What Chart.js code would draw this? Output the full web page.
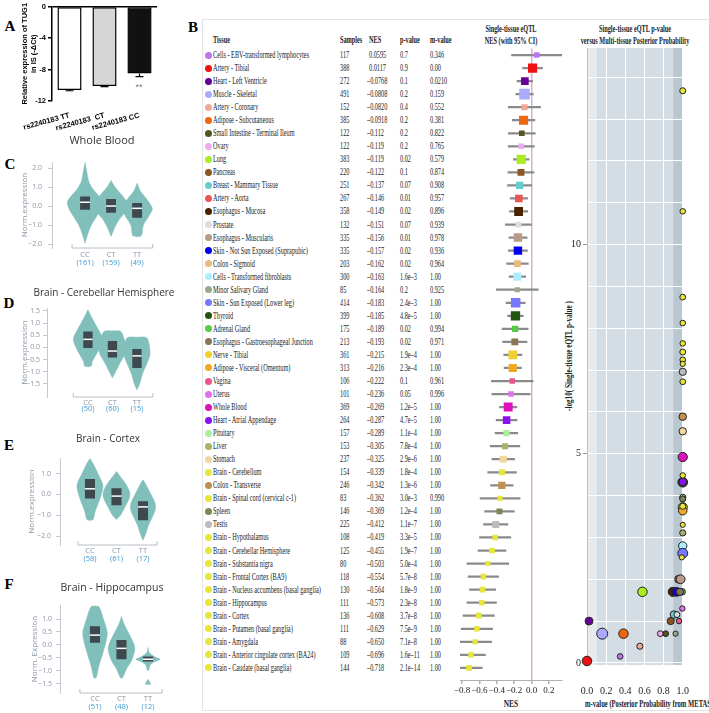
<!DOCTYPE html>
<html lang="en">
<head>
<meta charset="UTF-8">
<title>TUG1 rs2240183 eQTL</title>
<script src="https://cdn.jsdelivr.net/npm/chart.js@4"></script>
<style>
  body { margin: 0; width: 709px; height: 713px; overflow: hidden; position: relative; background: #fff; }
  canvas { position: absolute; }
  .t { position: absolute; white-space: nowrap; line-height: 1; }
  .dot { position: absolute; width: 7px; height: 7px; border-radius: 50%; }
</style>
</head>
<body>
<script>
// ---- Panel A: qPCR bars ----
const genoLabelsA = ['rs2240183 TT', 'rs2240183  CT', 'rs2240183 CC'];
const exprA = [-10.6, -10.1, -8.5];
const semA = [0.1, 0.08, 0.4];
const yTicksA = [0, -4, -8, -12];

// ---- Panels C-F: GTEx violins ----
const genotypes = ['CC', 'CT', 'TT'];

// [y, half width] knots, top to bottom
const wbCC = [[2.3, 0], [1.8, 0.07], [1.3, 0.14], [0.9, 0.3], [0.5, 0.55], [0.2, 0.68], [-0.2, 0.6], [-0.6, 0.42], [-1.0, 0.24], [-1.5, 0.1], [-1.95, 0]];
const wbCT = [[1.35, 0], [1.0, 0.15], [0.6, 0.4], [0.2, 0.62], [0.0, 0.65], [-0.3, 0.55], [-0.7, 0.32], [-1.1, 0.15], [-1.6, 0]];
const wbTT = [[1.2, 0], [0.8, 0.12], [0.4, 0.35], [0.0, 0.55], [-0.2, 0.58], [-0.6, 0.42], [-1.0, 0.24], [-1.55, 0.17], [-1.62, 0]];
const wbBox = [[-0.2, 0.2, 0.5], [-0.35, 0, 0.37], [-0.62, -0.12, 0.16]]; // q1, median, q3
const wbCounts = [161, 159, 49];

const chCC = [[1.55, 0], [1.2, 0.17], [0.8, 0.39], [0.4, 0.59], [0.2, 0.57], [-0.2, 0.39], [-0.6, 0.17], [-0.75, 0.15], [-0.8, 0]];
const chCT = [[0.68, 0], [0.66, 0.33], [0.4, 0.46], [0.0, 0.57], [-0.3, 0.5], [-0.6, 0.33], [-1.0, 0.13], [-1.25, 0]];
const chTT = [[0.42, 0], [0.4, 0.39], [0.1, 0.5], [-0.3, 0.53], [-0.7, 0.39], [-1.1, 0.22], [-1.5, 0.11], [-1.75, 0]];
const chBox = [[-0.03, 0.33, 0.65], [-0.42, -0.15, 0.26], [-0.85, -0.35, -0.07]];
const chCounts = [50, 60, 15];

const cxCC = [[1.72, 0], [1.4, 0.15], [1.0, 0.3], [0.5, 0.48], [0.2, 0.47], [-0.3, 0.35], [-0.8, 0.2], [-1.2, 0.12], [-1.25, 0]];
const cxCT = [[1.1, 0], [0.9, 0.12], [0.5, 0.35], [0.1, 0.5], [-0.2, 0.48], [-0.6, 0.32], [-1.0, 0.15], [-1.2, 0]];
const cxTT = [[0.7, 0], [0.5, 0.1], [0.0, 0.3], [-0.4, 0.45], [-0.7, 0.47], [-1.1, 0.35], [-1.5, 0.2], [-1.9, 0.1], [-2.2, 0]];
const cxBox = [[-0.2, 0.27, 0.74], [-0.52, -0.08, 0.3], [-1.24, -0.6, -0.33]];
const cxCounts = [58, 61, 17];

const hcCC = [[1.5, 0], [1.47, 0.15], [1.0, 0.32], [0.5, 0.46], [0.2, 0.43], [-0.3, 0.3], [-0.8, 0.15], [-1.25, 0.05], [-1.28, 0]];
const hcCT = [[1.1, 0], [0.8, 0.1], [0.4, 0.3], [0.0, 0.48], [-0.2, 0.5], [-0.6, 0.38], [-0.9, 0.2], [-1.25, 0.05], [-1.28, 0]];
const hcTT = [[-0.1, 0], [-0.3, 0.05], [-0.45, 0.25], [-0.55, 0.46], [-0.62, 0.3], [-0.75, 0.1], [-0.95, 0.03], [-1.0, 0]];
const hcBox = [[0.09, 0.38, 0.72], [-0.55, -0.13, 0.19], [-0.64, -0.55, -0.44]];
const hcCounts = [51, 48, 12];
const hcOutliers = [{ x: 3, y: -1.45 }];

// ---- Panel B: multi-tissue eQTL ----
const tissues = [
  'Cells - EBV-transformed lymphocytes', 'Artery - Tibial', 'Heart - Left Ventricle', 'Muscle - Skeletal',
  'Artery - Coronary', 'Adipose - Subcutaneous', 'Small Intestine - Terminal Ileum', 'Ovary', 'Lung', 'Pancreas',
  'Breast - Mammary Tissue', 'Artery - Aorta', 'Esophagus - Mucosa', 'Prostate', 'Esophagus - Muscularis',
  'Skin - Not Sun Exposed (Suprapubic)', 'Colon - Sigmoid', 'Cells - Transformed fibroblasts', 'Minor Salivary Gland',
  'Skin - Sun Exposed (Lower leg)', 'Thyroid', 'Adrenal Gland', 'Esophagus - Gastroesophageal Junction',
  'Nerve - Tibial', 'Adipose - Visceral (Omentum)', 'Vagina', 'Uterus', 'Whole Blood', 'Heart - Atrial Appendage',
  'Pituitary', 'Liver', 'Stomach', 'Brain - Cerebellum', 'Colon - Transverse', 'Brain - Spinal cord (cervical c-1)',
  'Spleen', 'Testis', 'Brain - Hypothalamus', 'Brain - Cerebellar Hemisphere', 'Brain - Substantia nigra',
  'Brain - Frontal Cortex (BA9)', 'Brain - Nucleus accumbens (basal ganglia)', 'Brain - Hippocampus',
  'Brain - Cortex', 'Brain - Putamen (basal ganglia)', 'Brain - Amygdala',
  'Brain - Anterior cingulate cortex (BA24)', 'Brain - Caudate (basal ganglia)'
];
const samples = [117, 388, 272, 491, 152, 385, 122, 122, 383, 220, 251, 267, 358, 132, 335, 335, 203, 300, 85, 414,
  399, 175, 213, 361, 313, 106, 101, 369, 264, 157, 153, 237, 154, 246, 83, 146, 225, 108, 125, 80,
  118, 130, 111, 136, 111, 88, 109, 144];
const nesText = ['0.0595', '0.0117', '-0.0768', '-0.0808', '-0.0820', '-0.0918', '-0.112', '-0.119', '-0.119', '-0.122',
  '-0.137', '-0.146', '-0.149', '-0.151', '-0.156', '-0.157', '-0.162', '-0.163', '-0.164', '-0.183',
  '-0.185', '-0.189', '-0.193', '-0.215', '-0.216', '-0.222', '-0.236', '-0.269', '-0.287', '-0.289',
  '-0.305', '-0.325', '-0.339', '-0.342', '-0.362', '-0.369', '-0.412', '-0.419', '-0.455', '-0.503',
  '-0.554', '-0.564', '-0.573', '-0.608', '-0.629', '-0.650', '-0.696', '-0.718'];
const pText = ['0.7', '0.9', '0.1', '0.2', '0.4', '0.2', '0.2', '0.2', '0.02', '0.1',
  '0.07', '0.01', '0.02', '0.07', '0.01', '0.02', '0.02', '1.6e-3', '0.2', '2.4e-3',
  '4.8e-5', '0.02', '0.02', '1.9e-4', '2.3e-4', '0.1', '0.05', '1.2e-5', '4.7e-5', '1.1e-4',
  '7.8e-4', '2.9e-6', '1.8e-4', '1.3e-6', '3.0e-3', '1.2e-4', '1.1e-7', '3.3e-5', '1.9e-7', '5.0e-4',
  '5.7e-8', '1.8e-9', '2.3e-8', '3.7e-8', '7.5e-9', '7.1e-8', '1.6e-11', '2.1e-14'];
const mText = ['0.346', '0.00', '0.0210', '0.159', '0.552', '0.381', '0.822', '0.765', '0.579', '0.874',
  '0.908', '0.957', '0.896', '0.939', '0.978', '0.936', '0.964', '1.00', '0.925', '1.00',
  '1.00', '0.994', '0.971', '1.00', '1.00', '0.961', '0.996', '1.00', '1.00', '1.00',
  '1.00', '1.00', '1.00', '1.00', '0.990', '1.00', '1.00', '1.00', '1.00', '1.00',
  '1.00', '1.00', '1.00', '1.00', '1.00', '1.00', '1.00', '1.00'];
// half width of the 95% CI
const ciHalf = [0.29, 0.115, 0.09, 0.1, 0.185, 0.13, 0.155, 0.15, 0.09, 0.15,
  0.14, 0.1, 0.105, 0.15, 0.105, 0.11, 0.125, 0.095, 0.24, 0.11,
  0.09, 0.15, 0.14, 0.105, 0.1, 0.24, 0.22, 0.1, 0.12, 0.13,
  0.17, 0.13, 0.165, 0.13, 0.23, 0.17, 0.14, 0.18, 0.16, 0.24,
  0.175, 0.15, 0.17, 0.18, 0.18, 0.19, 0.165, 0.15];
const BR = '#e6e63c';
const tissueColors = ['#bb77ee', '#ee1111', '#660099', '#aaaaff', '#f0a898', '#ee6611', '#555522', '#f0aaf0', '#aaee22', '#8d5522',
  '#66cccc', '#e85555', '#4a2200', '#dddddd', '#b89a88', '#0000ee', '#e8bb80', '#aaeeff', '#99aa88', '#7777ff',
  '#225511', '#55cc44', '#8b7355', '#f0d030', '#f0aa22', '#e85590', '#e070f0', '#dd11bb', '#8811ee', '#aaf099',
  '#aab066', '#f0d8a0', BR, '#c09050', BR, '#778855', '#bbbbbb', BR, BR, BR,
  BR, BR, BR, BR, BR, BR, BR, BR];
const nesTicks = [-0.8, -0.6, -0.4, -0.2, 0, 0.2];
const mTicks = [0, 0.2, 0.4, 0.6, 0.8, 1.0];
const bandEdges = [0, 0.1, 0.9, 1.0];
const bandColors = ['#e8ebed', '#d3dde3', '#b9c8d0'];

Chart.defaults.animation = false;
Chart.defaults.plugins.legend.display = false;
Chart.defaults.plugins.tooltip.enabled = false;
Chart.defaults.font.family = '"Liberation Serif", serif';

const SERIF = '"Liberation Serif", serif';
const SANS = '"Open Sans", sans-serif';
const minus = s => s.replace('-', '\u2013');
const fmt1 = v => (v < 0 ? '\u2212' : '') + Math.abs(v).toFixed(1);

function txt(s, x, y, o = {}) {
  const d = document.createElement('div');
  d.className = 't';
  d.textContent = s;
  const al = o.align || 'left';
  const tx = al === 'center' ? '-50%' : al === 'right' ? '-100%' : '0';
  d.style.left = x + 'px';
  d.style.top = y + 'px';
  d.style.font = o.font || '9.5px ' + SERIF;
  d.style.color = o.color || '#222';
  d.style.transformOrigin = al + ' center';
  d.style.transform = `translate(${tx},-50%)` + (o.rot ? ` rotate(${o.rot}deg)` : '') + ` scaleX(${o.sx || 1})`;
  document.body.appendChild(d);
  return d;
}

function mkCanvas(left, top, w, h) {
  const c = document.createElement('canvas');
  c.width = w; c.height = h;
  c.style.left = left + 'px'; c.style.top = top + 'px';
  c.style.width = w + 'px'; c.style.height = h + 'px';
  document.body.appendChild(c);
  return c;
}

// panel letters
[['A', 10, 26], ['B', 193, 27], ['C', 10, 164], ['D', 9, 303], ['E', 9, 445], ['F', 9, 584]].forEach(([l, x, y]) =>
  txt(l, x, y, { font: 'bold 15px ' + SERIF, color: '#000', align: 'center' }));

// ---------------- Panel A ----------------
const errPlugin = {
  id: 'errA',
  afterDatasetsDraw(chart) {
    const { ctx, scales: { x, y } } = chart;
    ctx.save();
    ctx.strokeStyle = '#000';
    ctx.lineWidth = 1.2;
    exprA.forEach((v, i) => {
      const px = x.getPixelForValue(i);
      const y0 = y.getPixelForValue(v), y1 = y.getPixelForValue(v - semA[i]);
      ctx.beginPath();
      ctx.moveTo(px, y0); ctx.lineTo(px, y1);
      ctx.moveTo(px - 4, y1); ctx.lineTo(px + 4, y1);
      ctx.stroke();
    });
    ctx.restore();
  }
};
new Chart(mkCanvas(0, 0, 165, 135), {
  type: 'bar',
  data: {
    labels: genoLabelsA,
    datasets: [{
      data: exprA,
      backgroundColor: ['#ffffff', '#d6d6d6', '#111111'],
      borderColor: '#000',
      borderWidth: 1.5,
      borderSkipped: false,
      barPercentage: 0.69,
      categoryPercentage: 1
    }]
  },
  options: {
    responsive: false,
    layout: { padding: { top: 5, right: 8, left: 0, bottom: 0 } },
    scales: {
      x: {
        grid: { display: false },
        border: { display: false },
        ticks: { font: { size: 7.5, weight: 'bold', family: '"Liberation Sans"' }, color: '#000', minRotation: 15, maxRotation: 15, autoSkip: false, padding: 2 },
        afterFit: s => { s.height = 34; }
      },
      y: {
        min: -12, max: 0,
        afterBuildTicks: s => { s.ticks = yTicksA.map(v => ({ value: v })); },
        border: { color: '#000', width: 1.5 },
        grid: { color: c => c.tick.value === 0 ? '#000' : 'transparent', lineWidth: 1.5, tickColor: '#000', tickLength: 4 },
        ticks: { font: { size: 7.5, weight: 'bold', family: '"Liberation Sans"' }, color: '#000', padding: 2 },
        title: { display: true, text: ['Relative expression of TUG1', 'in IS (-\u0394Ct)'], font: { size: 7.5, weight: 'bold', family: '"Liberation Sans"' }, color: '#000', padding: { top: 20, bottom: 0 } },
        afterFit: s => { s.width = 52; }
      }
    }
  },
  plugins: [errPlugin]
});
txt('**', 139, 87, { font: '9px "Liberation Sans"', color: '#777', align: 'center' });

// ---------------- Panels C-F ----------------
const TEAL = '#80bfba';
const BOXC = '#3e484f';

function violinPoints(center, prof) {
  const right = prof.map(([y, w]) => ({ x: center + w, y }));
  const left = prof.slice().reverse().map(([y, w]) => ({ x: center - w, y }));
  return right.concat(left);
}
function boxPoints(center, q) {
  const w = 0.19;
  return [{ x: center - w, y: q[0] }, { x: center + w, y: q[0] }, { x: center + w, y: q[2] }, { x: center - w, y: q[2] }, { x: center - w, y: q[0] }];
}

const panels = [
  { title: 'Whole Blood', tx: 102, ty: 139, tsize: 11, top: 150, h: 122, pad: [12, 18, 24], axisX: 52, xr: [-0.27, 3.88], yr: [-2.21, 2.32],
    yTicks: [2, 1, 0, -1, -2], yTitle: 'Norm.expression', titlePad: 20, tickPad: 6, bracket: [0.5, 3.6], gap: [7, 15],
    violins: [wbCC, wbCT, wbTT], boxes: wbBox, counts: wbCounts },
  { title: 'Brain - Cerebellar Hemisphere', tx: 104, ty: 292, tsize: 10, top: 298, h: 118, pad: [10, 18, 19], axisX: 47, xr: [-0.67, 3.94], yr: [-2.04, 1.62],
    yTicks: [1.5, 1, 0.5, 0, -0.5, -1, -1.5], yTitle: 'Norm.expression', titlePad: 20, tickPad: 3, bracket: [0.4, 3.65], gap: [6, 12],
    violins: [chCC, chCT, chTT], boxes: chBox, counts: chCounts },
  { title: 'Brain - Cortex', tx: 108, ty: 438, tsize: 10, top: 448, h: 120, pad: [10, 13, 23], axisX: 60, xr: [-0.13, 3.83], yr: [-2.43, 1.75],
    yTicks: [1, 0, -1, -2], yTitle: 'Norm.expression', titlePad: 27, tickPad: 5, bracket: [0.55, 3.53], gap: [6, 14],
    violins: [cxCC, cxCT, cxTT], boxes: cxBox, counts: cxCounts },
  { title: 'Brain - Hippocampus', tx: 112, ty: 587, tsize: 10.5, top: 596, h: 117, pad: [9, 8, 20], axisX: 60, xr: [-0.32, 3.83], yr: [-1.85, 1.54],
    yTicks: [1, 0.5, 0, -0.5, -1, -1.5], yTitle: 'Norm. Expression', titlePad: 30, tickPad: 4, bracket: [0.43, 3.53], gap: [6, 14],
    violins: [hcCC, hcCT, hcTT], boxes: hcBox, counts: hcCounts, outliers: hcOutliers }
];

panels.forEach(p => {
  txt(p.title, p.tx, p.ty, { font: p.tsize + 'px ' + SANS, color: '#333', align: 'center' });
  const ds = [];
  p.violins.forEach((prof, i) => {
    ds.push({ data: violinPoints(i + 1, prof), fill: 'shape', backgroundColor: TEAL, borderColor: TEAL, borderWidth: 0.5, pointRadius: 0, tension: 0.3, order: 3 });
    ds.push({ data: boxPoints(i + 1, p.boxes[i]), fill: 'shape', backgroundColor: BOXC, borderColor: BOXC, borderWidth: 0, pointRadius: 0, tension: 0, order: 2 });
    ds.push({ data: [{ x: i + 1 - 0.19, y: p.boxes[i][1] }, { x: i + 1 + 0.19, y: p.boxes[i][1] }], borderColor: '#fff', borderWidth: 1.5, pointRadius: 0, order: 1 });
  });
  if (p.outliers) {
    ds.push({ data: p.outliers, showLine: false, pointStyle: 'triangle', pointRadius: 3, pointBackgroundColor: TEAL, pointBorderColor: TEAL, order: 1 });
  }
  const axisPlugin = {
    id: 'violinAxis',
    afterDraw(chart) {
      const { ctx, scales: { x } } = chart;
      const yb = chart.chartArea.bottom;
      ctx.save();
      ctx.strokeStyle = '#b8bec6';
      ctx.lineWidth = 1;
      const x0 = x.getPixelForValue(p.bracket[0]), x1 = x.getPixelForValue(p.bracket[1]);
      ctx.beginPath();
      ctx.moveTo(x0, yb - 4); ctx.lineTo(x0, yb); ctx.lineTo(x1, yb); ctx.lineTo(x1, yb - 4);
      ctx.stroke();
      ctx.textAlign = 'center';
      ctx.textBaseline = 'middle';
      genotypes.forEach((g, i) => {
        const px = x.getPixelForValue(i + 1);
        ctx.font = '7.5px ' + SANS;
        ctx.fillStyle = '#8a96a6';
        ctx.fillText(g, px, yb + p.gap[0]);
        ctx.fillStyle = '#3d9bcf';
        ctx.fillText('(' + p.counts[i] + ')', px, yb + p.gap[1]);
      });
      ctx.restore();
    }
  };
  new Chart(mkCanvas(0, p.top, 178, p.h), {
    type: 'line',
    data: { datasets: ds },
    options: {
      responsive: false,
      layout: { padding: { top: p.pad[0], right: p.pad[1], bottom: p.pad[2], left: 0 } },
      scales: {
        x: { type: 'linear', min: p.xr[0], max: p.xr[1], display: false },
        y: {
          min: p.yr[0], max: p.yr[1],
          afterBuildTicks: s => { s.ticks = p.yTicks.map(v => ({ value: v })); },
          border: { color: '#c4c9cf' },
          grid: { drawOnChartArea: false, tickLength: 4, tickColor: '#c4c9cf' },
          ticks: { font: { size: 7, family: SANS }, color: '#8a96a6', padding: p.tickPad, callback: v => fmt1(v) },
          title: { display: true, text: p.yTitle, font: { size: 8, family: SANS }, color: '#8a96a6', padding: { top: p.titlePad, bottom: 0 } },
          afterFit: s => { s.width = p.axisX; }
        }
      }
    },
    plugins: [axisPlugin]
  });
});

// ---------------- Panel B: table ----------------
const frame = document.createElement('div');
frame.style.cssText = 'position:absolute;left:202px;top:19px;width:520px;height:690px;border-top:1px solid #e4e4e4;border-left:1px solid #e4e4e4;border-bottom:1px solid #e4e4e4;';
document.body.appendChild(frame);

const SX = 0.66;
const HB = 'bold 9.5px ' + SERIF;
txt('Tissue', 213, 40, { font: HB, sx: SX });
txt('Samples', 340, 40, { font: HB, sx: SX });
txt('NES', 369, 40, { font: HB, sx: SX });
txt('p-value', 400, 40, { font: HB, sx: SX });
txt('m-value', 430, 40, { font: HB, sx: SX });
txt('Single-tissue eQTL', 511, 29, { font: HB, sx: SX, align: 'center' });
txt('NES (with 95% CI)', 511, 41, { font: HB, sx: SX, align: 'center' });
txt('Single-tissue eQTL p-value', 635, 29, { font: HB, sx: SX, align: 'center' });
txt('versus Multi-tissue Posterior Probability', 635, 41, { font: HB, sx: SX, align: 'center' });
txt('NES', 511, 703, { font: 'bold 10px ' + SERIF, sx: 0.75, align: 'center' });
txt('m-value (Posterior Probability from METASOFT)', 585, 703, { font: 'bold 10px ' + SERIF, sx: 0.66 });
txt('-log10( Single-tissue eQTL p-value )', 568, 356, { font: 'bold 10px ' + SERIF, sx: 0.72, align: 'center', rot: -90 });

tissues.forEach((t, i) => {
  const y = 55 + i * 13.04;
  const d = document.createElement('div');
  d.className = 'dot';
  d.style.left = '204.5px';
  d.style.top = (y - 3.5) + 'px';
  d.style.background = tissueColors[i];
  document.body.appendChild(d);
  txt(t, 213, y, { sx: SX });
  txt(String(samples[i]), 340, y, { sx: SX });
  txt(minus(nesText[i]), nesText[i][0] === '-' ? 367 : 369, y, { sx: SX });
  txt(minus(pText[i]), 400, y, { sx: SX });
  txt(mText[i], 430, y, { sx: SX });
});

// ---------------- Panel B: forest plot ----------------
const nes = nesText.map(Number);
new Chart(mkCanvas(450, 40, 120, 673), {
  type: 'bar',
  data: {
    datasets: [
      {
        type: 'bar',
        data: tissues.map((t, i) => ({ y: i, x: [nes[i] - ciHalf[i], nes[i] + ciHalf[i]] })),
        backgroundColor: '#8a8a8a',
        barThickness: 1.6,
        order: 2
      },
      {
        type: 'line',
        data: tissues.map((t, i) => ({ x: nes[i], y: i })),
        showLine: false,
        pointStyle: 'rect',
        pointRadius: samples.map(n => (4 + n / 75) / 1.414),
        pointBackgroundColor: tissueColors,
        pointBorderWidth: 0,
        order: 1
      }
    ]
  },
  options: {
    responsive: false,
    indexAxis: 'y',
    layout: { padding: { left: 10, right: 8, top: 8.5, bottom: 0 } },
    scales: {
      x: {
        type: 'linear', min: -0.823, max: 0.35, offset: false,
        afterBuildTicks: s => { s.ticks = nesTicks.map(v => ({ value: v })); },
        border: { color: '#b0b0b0' },
        grid: { offset: false, color: c => c.tick && c.tick.value === 0 ? '#dcaed0' : 'transparent', lineWidth: 1.5, tickColor: '#b0b0b0', tickLength: 4 },
        ticks: { font: { size: 9, family: SERIF }, color: '#222', padding: 1, minRotation: 0, maxRotation: 0, autoSkip: false, callback: v => fmt1(v) },
        afterFit: s => { s.height = 33; }
      },
      y: { type: 'linear', min: -0.5, max: 47.93, reverse: true, display: false, offset: false, grid: { offset: false } }
    }
  }
});

// ---------------- Panel B: m-value vs p-value ----------------
const bandPlugin = {
  id: 'bands',
  beforeDraw(chart) {
    const { ctx, chartArea: a, scales: { x } } = chart;
    ctx.save();
    bandColors.forEach((c, i) => {
      const x0 = x.getPixelForValue(bandEdges[i]), x1 = x.getPixelForValue(bandEdges[i + 1]);
      ctx.fillStyle = c;
      ctx.fillRect(x0, a.top, x1 - x0, a.bottom - a.top);
    });
    ctx.restore();
  }
};
new Chart(mkCanvas(540, 40, 169, 673), {
  type: 'scatter',
  data: {
    datasets: [{
      data: tissues.map((t, i) => ({ x: Number(mText[i]), y: -Math.log10(Number(pText[i])) })),
      pointRadius: samples.map(n => 2 + n / 140),
      pointBackgroundColor: tissueColors,
      pointBorderColor: '#222',
      pointBorderWidth: 1,
      clip: false
    }]
  },
  options: {
    responsive: false,
    layout: { padding: { left: 0, right: 26, top: 8, bottom: 0 } },
    scales: {
      x: {
        type: 'linear', min: 0, max: 1,
        afterBuildTicks: s => { s.ticks = mTicks.map(v => ({ value: v })); },
        border: { display: false },
        grid: { color: '#ffffff', lineWidth: 1, drawTicks: false },
        ticks: { font: { size: 10, family: SERIF }, color: '#222', padding: 20, minRotation: 0, maxRotation: 0, autoSkip: false, callback: v => v.toFixed(1) },
        afterFit: s => { s.height = 48; }
      },
      y: {
        min: -0.05, max: 14.7,
        afterBuildTicks: s => { s.ticks = Array.from({ length: 15 }, (_, k) => ({ value: k })); },
        border: { color: '#c0c0c0' },
        grid: { color: '#ffffff', lineWidth: 1, tickLength: 4, tickColor: c => c.tick && c.tick.value % 5 === 0 ? '#999' : 'transparent' },
        ticks: { font: { size: 10, family: SERIF }, color: '#222', padding: 2, callback: v => v % 5 === 0 ? String(v) : '' },
        afterFit: s => { s.width = 47; }
      }
    }
  },
  plugins: [bandPlugin]
});
</script>
</body>
</html>
